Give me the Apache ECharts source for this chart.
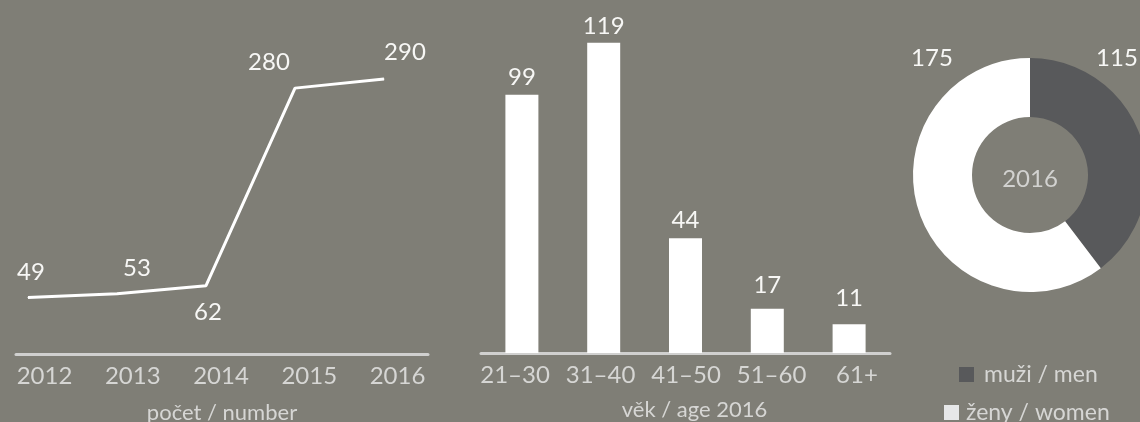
<!DOCTYPE html>
<html>
<head>
<meta charset="utf-8">
<script src="https://cdn.jsdelivr.net/npm/echarts@6/dist/echarts.min.js"></script>
<style>
  html, body { margin: 0; padding: 0; background: #7f7e76; }
  #main { width: 1140px; height: 422px; }
</style>
</head>
<body>
<div id="main"></div>
<script>
// data
const years = ['2012', '2013', '2014', '2015', '2016']
const counts = [49, 53, 62, 280, 290]
const ageGroups = ['21–30', '31–40', '41–50', '51–60', '61+']
const ageCounts = [99, 119, 44, 17, 11]
const genders = ['muži / men', 'ženy / women']
const genderCounts = [115, 175]
const pieYear = '2016'

// label offsets (style only)
const lineLabelOffsets = [[3, -25], [20, -26], [2, 27], [-26, -26], [21, -27]]
const barLabelOffsets = [[0, 0], [0, 2], [0, 0], [0, -5], [0, -8]]

const font = 'Lato, "Open Sans", sans-serif'
const bg = '#7f7e76'
const axisColor = '#d0d0cf'
const labelColor = '#d6d6d4'
const valueColor = '#f7f7f5'
const darkColor = '#58595b'

const chart = echarts.init(document.getElementById('main'), null, { renderer: 'canvas' })

const axisLabelStyle = { color: labelColor, fontSize: 24, fontFamily: font, margin: 10 }

const option = {
  backgroundColor: bg,
  animation: false,
  textStyle: { fontFamily: font },
  grid: [
    // line plot area
    { left: 28, width: 356, top: 70, bottom: 67.5, outerBoundsMode: 'none' },
    // line axis
    { left: 16, width: 412, top: 70, bottom: 67.5, outerBoundsMode: 'none' },
    // bars
    { left: 481, width: 409, top: 14, bottom: 69, outerBoundsMode: 'none' }
  ],
  xAxis: [
    { gridIndex: 0, type: 'category', data: years, boundaryGap: false, show: false },
    {
      gridIndex: 1, type: 'value', min: -0.323, max: 4.346, position: 'bottom',
      axisLine: { show: true, lineStyle: { color: axisColor, width: 3 } },
      axisTick: { show: false },
      splitLine: { show: false },
      axisLabel: {
        ...axisLabelStyle,
        customValues: [0, 1, 2, 3, 4],
        formatter: v => years[v]
      },
      name: 'počet / number',
      nameLocation: 'middle',
      nameGap: 47,
      nameTextStyle: { color: labelColor, fontSize: 22, fontFamily: font }
    },
    { gridIndex: 2, type: 'category', data: ageGroups, position: 'top', show: false },
    {
      gridIndex: 2, type: 'value', min: -0.398, max: 4.386, position: 'bottom',
      axisLine: { show: true, lineStyle: { color: axisColor, width: 3 } },
      axisTick: { show: false },
      splitLine: { show: false },
      axisLabel: {
        ...axisLabelStyle,
        customValues: [0, 1, 2, 3, 4],
        formatter: v => ageGroups[v]
      },
      name: 'věk / age 2016',
      nameLocation: 'middle',
      nameGap: 46,
      nameTextStyle: { color: labelColor, fontSize: 22, fontFamily: font, padding: [0, 0, 0, 18] }
    }
  ],
  yAxis: [
    { gridIndex: 0, type: 'value', min: -14, max: 300, show: false },
    { gridIndex: 1, type: 'value', show: false },
    { gridIndex: 2, type: 'value', min: 0, max: 130, show: false }
  ],
  legend: [
    {
      data: [genders[0]], orient: 'vertical', left: 959, top: 363, padding: 0,
      itemWidth: 15, itemHeight: 15, icon: 'rect', selectedMode: false,
      textStyle: { color: labelColor, fontSize: 23, fontFamily: font, padding: [0, 0, 0, 5] }
    },
    {
      data: [{ name: genders[1], itemStyle: { color: '#e6e7e8' } }], orient: 'vertical', left: 944, top: 401, padding: 0,
      itemWidth: 15, itemHeight: 15, icon: 'rect', selectedMode: false,
      textStyle: { color: labelColor, fontSize: 23, fontFamily: font, padding: [0, 0, 0, 2] }
    }
  ],
  series: [
    {
      type: 'line',
      xAxisIndex: 0, yAxisIndex: 0,
      data: counts.map((v, i) => ({
        value: v,
        label: { offset: lineLabelOffsets[i] }
      })),
      symbol: 'circle',
      symbolSize: 1,
      itemStyle: { color: '#ffffff' },
      lineStyle: { color: '#ffffff', width: 3 },
      label: {
        show: true, position: 'inside',
        color: valueColor, fontSize: 24, fontFamily: font
      },
      silent: true
    },
    {
      type: 'bar',
      xAxisIndex: 2, yAxisIndex: 2,
      data: ageCounts.map((v, i) => ({
        value: v,
        label: { offset: barLabelOffsets[i] }
      })),
      barWidth: 33,
      itemStyle: { color: '#ffffff' },
      label: {
        show: true, position: 'top', distance: 6,
        color: valueColor, fontSize: 24, fontFamily: font
      },
      silent: true
    },
    {
      type: 'pie',
      center: [1030, 175],
      radius: [58, 117],
      startAngle: 90,
      clockwise: true,
      silent: true,
      data: genders.map((g, i) => ({
        name: g,
        value: genderCounts[i],
        itemStyle: { color: i === 0 ? darkColor : '#ffffff' }
      })),
      label: {
        show: true, position: 'inside',
        formatter: '{c}',
        color: valueColor, fontSize: 24, fontFamily: font
      },
      labelLine: { show: false },
      labelLayout: p => (p.dataIndex === 0
        ? { x: 1117, y: 58, align: 'center', verticalAlign: 'middle' }
        : { x: 932, y: 58, align: 'center', verticalAlign: 'middle' })
    }
  ],
  graphic: [
    {
      type: 'text', x: 1030, y: 179,
      style: { text: pieYear, fill: '#d2d2d0', fontSize: 24, fontFamily: font, align: 'center', verticalAlign: 'middle' }
    }
  ]
}

option && chart.setOption(option)
</script>
</body>
</html>
